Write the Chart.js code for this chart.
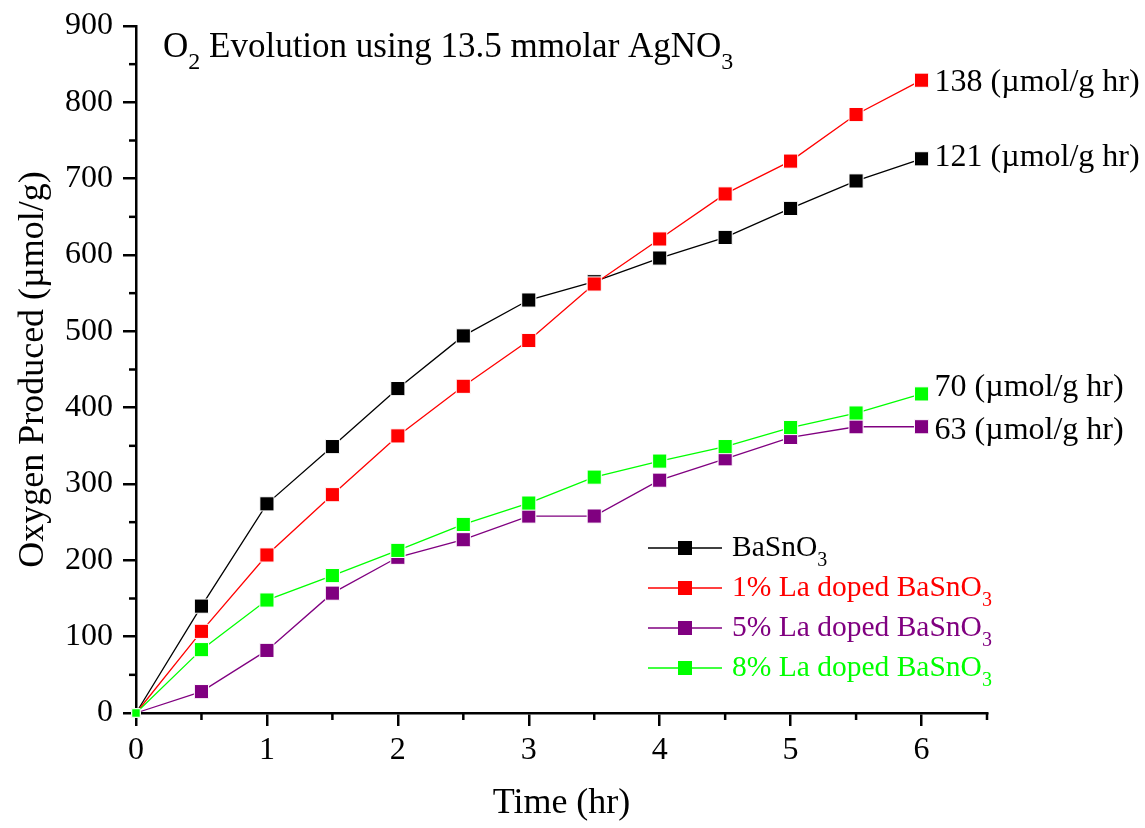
<!DOCTYPE html>
<html>
<head>
<meta charset="utf-8">
<script src="https://cdn.jsdelivr.net/npm/chart.js@4.4.0/dist/chart.umd.min.js"></script>
<style>
  html, body { margin: 0; padding: 0; background: #fff; }
  #wrap { width: 1145px; height: 828px; position: relative; }
</style>
</head>
<body>
<div id="wrap"><canvas id="o2Chart"></canvas></div>
<script>
// time points (hr)
const times = [0, 0.5, 1, 1.5, 2, 2.5, 3, 3.5, 4, 4.5, 5, 5.5, 6];

// oxygen produced (umol/g)
const baSnO3 = [0, 140, 274, 349, 425, 494, 541, 565, 596, 623, 661, 697, 726];
const la1 = [0, 107, 207, 286, 363, 428, 488, 562, 621, 680, 723, 784, 829];
const la5 = [0, 28, 82, 157, 204, 227, 258, 258, 305, 333, 361, 375, 375];
const la8 = [0, 83, 148, 180, 213, 247, 275, 309, 330, 349, 374, 393, 418];

// "_x" marks a subscript
const seriesNames = ["BaSnO_3", "1% La doped BaSnO_3", "5% La doped BaSnO_3", "8% La doped BaSnO_3"];
const seriesColors = ["#000000", "#ff0000", "#800080", "#00ff00"];
const rates = [121, 138, 63, 70];
const rateUnit = "(\u00b5mol/g hr)";
const titleText = "O_2 Evolution using 13.5 mmolar AgNO_3";

const FONT = "'Liberation Serif', 'Times New Roman', serif";

function toXY(ys) {
  return times.map((t, i) => ({ x: t, y: ys[i] }));
}

// draw text with simple "_x" subscripts, left aligned, vertically centred on y
function drawRich(ctx, text, x, y, size, color) {
  const parts = text.split(/(_\w)/).filter(p => p.length);
  ctx.save();
  ctx.fillStyle = color;
  ctx.textBaseline = "middle";
  ctx.textAlign = "left";
  parts.forEach(p => {
    if (p[0] === "_") {
      ctx.font = Math.round(size * 0.68) + "px " + FONT;
      ctx.fillText(p.slice(1), x, y + size * 0.42);
      x += ctx.measureText(p.slice(1)).width;
    } else {
      ctx.font = size + "px " + FONT;
      ctx.fillText(p, x, y);
      x += ctx.measureText(p).width;
    }
  });
  ctx.restore();
}

const extras = {
  id: "extras",
  afterDraw(chart) {
    const ctx = chart.ctx;
    const xs = chart.scales.x;
    const ys = chart.scales.y;

    // minor ticks
    ctx.save();
    ctx.strokeStyle = "#000";
    ctx.lineWidth = 2.5;
    for (let v = 50; v <= 900; v += 100) {
      const py = ys.getPixelForValue(v);
      ctx.beginPath();
      ctx.moveTo(xs.left - 7, py);
      ctx.lineTo(xs.left, py);
      ctx.stroke();
    }
    for (let v = 0.5; v <= 6.5; v += 1) {
      const px = xs.getPixelForValue(v);
      ctx.beginPath();
      ctx.moveTo(px, ys.bottom);
      ctx.lineTo(px, ys.bottom + 7);
      ctx.stroke();
    }
    ctx.restore();

    // title inside the plot
    drawRich(ctx, titleText, 163, 48, 35, "#000");

    // legend
    seriesNames.forEach((name, i) => {
      const yy = 548 + i * 40;
      ctx.save();
      ctx.strokeStyle = seriesColors[i];
      ctx.lineWidth = 1.3;
      ctx.beginPath();
      ctx.moveTo(648, yy);
      ctx.lineTo(722, yy);
      ctx.stroke();
      ctx.fillStyle = seriesColors[i];
      ctx.fillRect(678, yy - 7, 14, 14);
      ctx.restore();
      drawRich(ctx, name, 732, yy, 29.5, seriesColors[i]);
    });

    // rate labels next to the last points
    const nudge = [-1, 2, 4, -6];
    const sets = [baSnO3, la1, la5, la8];
    sets.forEach((ys2, i) => {
      const last = ys2.length - 1;
      const px = xs.getPixelForValue(times[last]) + 13;
      const py = ys.getPixelForValue(ys2[last]) + nudge[i];
      drawRich(ctx, rates[i] + " " + rateUnit, px, py, 32, "#000");
    });
  }
};

const datasets = [baSnO3, la1, la5, la8].map((vals, i) => ({
  label: seriesNames[i].replace("_", ""),
  data: toXY(vals),
  borderColor: seriesColors[i],
  backgroundColor: seriesColors[i],
  borderWidth: 1.3,
  pointStyle: "rect",
  pointRadius: ctx => ctx.dataIndex === 0 ? 6 : 10,
  pointBorderColor: "#ffffff",
  pointBorderWidth: 1,
  pointBackgroundColor: seriesColors[i],
  order: 3 - i,
  clip: false,
  tension: 0
}));

new Chart(document.getElementById("o2Chart"), {
  type: "line",
  data: { datasets },
  options: {
    responsive: true,
    maintainAspectRatio: false,
    animation: false,
    layout: { padding: { top: 26, right: 158, left: 0, bottom: 0 } },
    plugins: {
      legend: { display: false },
      tooltip: { enabled: false }
    },
    scales: {
      x: {
        type: "linear",
        min: 0,
        max: 6.5,
        afterFit: s => { s.height = 115; },
        ticks: {
          stepSize: 0.5,
          autoSkip: false,
          maxRotation: 0,
          padding: 5,
          color: "#000",
          font: { family: FONT, size: 32 },
          callback: v => Number.isInteger(v) ? v : ""
        },
        grid: {
          drawOnChartArea: false,
          tickLength: 13,
          lineWidth: 2.5,
          color: c => Number.isInteger(c.tick ? c.tick.value : 0) ? "#000" : "rgba(0,0,0,0)"
        },
        border: { display: true, color: "#000", width: 2.5 },
        title: {
          display: true,
          text: "Time (hr)",
          color: "#000",
          font: { family: FONT, size: 36 },
          padding: { top: 0, bottom: 3 }
        }
      },
      y: {
        min: 0,
        max: 900,
        afterFit: s => { s.width = 136; },
        ticks: {
          stepSize: 50,
          autoSkip: false,
          padding: 10,
          color: "#000",
          font: { family: FONT, size: 32, lineHeight: 1 },
          callback: v => v % 100 === 0 ? v : ""
        },
        grid: {
          drawOnChartArea: false,
          tickLength: 13,
          lineWidth: 2.5,
          color: c => (c.tick && c.tick.value % 100 === 0) ? "#000" : "rgba(0,0,0,0)"
        },
        border: { display: true, color: "#000", width: 2.5 },
        title: {
          display: true,
          text: "Oxygen Produced (\u00b5mol/g)",
          color: "#000",
          font: { family: FONT, size: 36 },
          padding: { top: 12, bottom: 0 }
        }
      }
    }
  },
  plugins: [extras]
});
</script>
</body>
</html>
